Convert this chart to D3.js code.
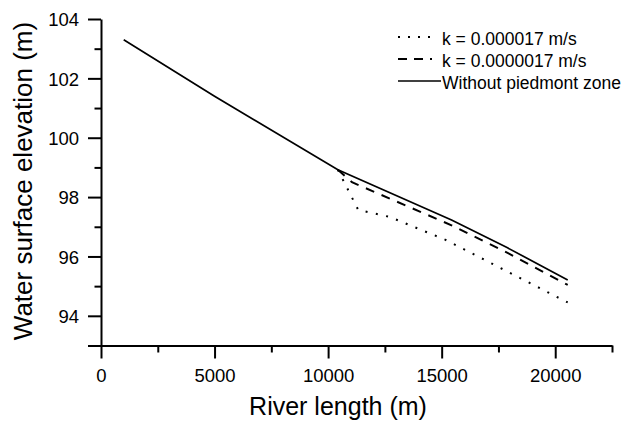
<!DOCTYPE html>
<html>
<head>
<meta charset="utf-8">
<script src="https://cdn.jsdelivr.net/npm/d3@7"></script>
<style>
  body { margin: 0; background: #fff; }
  text { font-family: "Liberation Sans", Arial, sans-serif; fill: #000; }
  .axis path, .axis line { stroke: #000; stroke-width: 2px; }
</style>
</head>
<body>
<div id="chart-area"></div>
<script>
// Data
let solidX = [1000, 5000, 10430, 15435, 17900, 20550]
let solidY = [103.3, 101.4, 98.92, 97.23, 96.29, 95.21]

let dashX = [10430, 11050, 15435, 17900, 20550]
let dashY = [98.92, 98.5, 97.05, 96.12, 95.04]

let dotX = [10430, 11325, 12720, 15170, 20550]
let dotY = [98.92, 97.57, 97.33, 96.56, 94.45]

let xTicks = [0, 5000, 10000, 15000, 20000]
let xMinor = [2500, 7500, 12500, 17500, 22500]
let yTicks = [94, 96, 98, 100, 102, 104]
let yMinor = [95, 97, 99, 101, 103]

let legendLabels = ['k = 0.000017 m/s', 'k = 0.0000017 m/s', 'Without piedmont zone']

let svg = d3.select('#chart-area').append('svg')
  .attr('width', 627)
  .attr('height', 423)

// Scales
let x = d3.scaleLinear().domain([0, 22500]).range([101, 612])
let y = d3.scaleLinear().domain([93, 104]).range([345.5, 19])

// Minor ticks first, then the major ones with labels
svg.append('g')
  .attr('class', 'axis')
  .attr('transform', 'translate(0, ' + y(93) + ')')
  .call(d3.axisBottom(x).tickValues(xMinor).tickSize(7).tickSizeOuter(0).tickFormat(''))
  .select('.domain').remove()

svg.append('g')
  .attr('class', 'axis')
  .attr('transform', 'translate(' + x(0) + ', 0)')
  .call(d3.axisLeft(y).tickValues(yMinor).tickSize(6.5).tickSizeOuter(0).tickFormat(''))
  .select('.domain').remove()

let xAxis = svg.append('g')
  .attr('class', 'axis')
  .attr('transform', 'translate(0, ' + y(93) + ')')
  .call(d3.axisBottom(x).tickValues(xTicks).tickSize(13).tickSizeOuter(0).tickPadding(10).tickFormat(d3.format('d')))
xAxis.selectAll('text').style('font-size', '18.5px')

let yAxis = svg.append('g')
  .attr('class', 'axis')
  .attr('transform', 'translate(' + x(0) + ', 0)')
  .call(d3.axisLeft(y).tickValues([93].concat(yTicks)).tickSize(13).tickSizeOuter(0).tickPadding(9)
    .tickFormat((d) => { return d == 93 ? '' : d }))
yAxis.selectAll('text').style('font-size', '18.5px').attr('dy', '0.36em')

// Axis titles
svg.append('text')
  .attr('x', 338)
  .attr('y', 415)
  .style('text-anchor', 'middle')
  .style('font-size', '25px')
  .text('River length (m)')

svg.append('text')
  .attr('transform', 'translate(32, 181) rotate(-90)')
  .style('text-anchor', 'middle')
  .style('font-size', '26px')
  .text('Water surface elevation (m)')

// Lines
let line = d3.line()
  .x((d) => { return x(d[0]) })
  .y((d) => { return y(d[1]) })

let series = [
  { xs: dotX, ys: dotY, dash: '2,8.5', width: 2 },
  { xs: dashX, ys: dashY, dash: '9,8', width: 2 },
  { xs: solidX, ys: solidY, dash: null, width: 1.7 }
]

series.forEach((s) => {
  svg.append('path')
    .attr('fill', 'none')
    .attr('stroke', '#000')
    .attr('stroke-width', s.width)
    .attr('stroke-dasharray', s.dash)
    .attr('d', line(d3.zip(s.xs, s.ys)))
})

// Legend
let legend = svg.append('g').attr('transform', 'translate(398, 37)')
legendLabels.forEach((label, i) => {
  let s = series[i]
  legend.append('line')
    .attr('x1', 0).attr('x2', i == 2 ? 43 : 34)
    .attr('y1', i * 22).attr('y2', i * 22)
    .attr('stroke', '#000')
    .attr('stroke-width', s.width)
    .attr('stroke-dasharray', i == 0 ? '2,8' : i == 1 ? '9,7' : null)
  legend.append('text')
    .attr('x', 44)
    .attr('y', i * 22 + 7.5)
    .style('font-size', '17.5px')
    .text(label)
})
</script>
</body>
</html>
